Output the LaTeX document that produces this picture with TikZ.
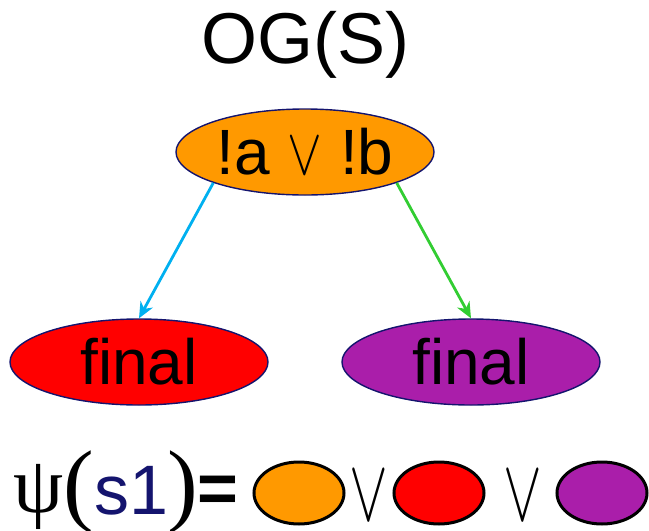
\documentclass[tikz,border=0pt]{standalone}
\usepackage{fontspec}
\setmainfont{Liberation Sans}
\newfontfamily\serifgr{Liberation Serif}
\usetikzlibrary{arrows.meta,shapes.geometric}
\definecolor{ogorange}{RGB}{255,153,0}
\definecolor{ogred}{RGB}{255,0,0}
\definecolor{ogpurple}{RGB}{170,30,170}
\definecolor{ognavy}{RGB}{20,20,110}
\definecolor{edgecyan}{RGB}{0,176,240}
\definecolor{edgegreen}{RGB}{50,205,50}
\newcommand{\thinor}[2]{{\fontsize{10}{12}\selectfont\scalebox{#1}[#2]{$\vee$}}}
\newcommand{\tallpar}[1]{{\serifgr\fontsize{46}{50}\selectfont #1}}

\begin{document}
\begin{tikzpicture}[x=0.5pt,y=-0.5pt,>={Stealth[length=8pt,width=7pt]},
  state/.style={ellipse,draw=ognavy,line width=0.7pt,inner sep=0pt,
    minimum width=129pt,minimum height=43pt,font=\fontsize{32}{36}\selectfont},
  mini/.style={ellipse,draw=black,line width=1.5pt,inner sep=0pt,
    minimum width=45pt,minimum height=31pt},
  big/.style={inner sep=0pt,font=\fontsize{35}{40}\selectfont}]
        \useasboundingbox (0,0) rectangle (649,531);

        \node[font=\fontsize{36}{40}\selectfont] (title) at (305,45) {OG(S)};

        \node[state, fill=ogorange] (og) at (305,152) {!a \thinor{2.6}{3.3} !b};
        \node[state, fill=ogred] (fin1) at (139,362) {final};
        \node[state, fill=ogpurple] (fin2) at (471,362) {final};

        \draw[->, edgecyan, line width=1.4pt] (og.south west) -- (fin1.north);
        \draw[->, edgegreen, line width=1.4pt] (og.south east) -- (fin2.north);

        % psi(s1) = ...
        \node[big, font=\fontsize{40}{44}\selectfont] (psi) at (39,497) {\serifgr ψ};
        \node[big] (arg) at (131,492) {\tallpar{(}\textcolor{ognavy}{s1}\tallpar{)}};
        \node[big] (eq) at (218,494) {\bfseries =};
        \node[mini, fill=ogorange] (c1) at (299,493) {};
        \node[big] (or1) at (369,496) {\thinor{2.9}{4.4}};
        \node[mini, fill=ogred] (c2) at (439,493) {};
        \node[big] (or2) at (523,496) {\thinor{2.9}{4.4}};
        \node[mini, fill=ogpurple] (c3) at (602,493) {};
\end{tikzpicture}
\end{document}
